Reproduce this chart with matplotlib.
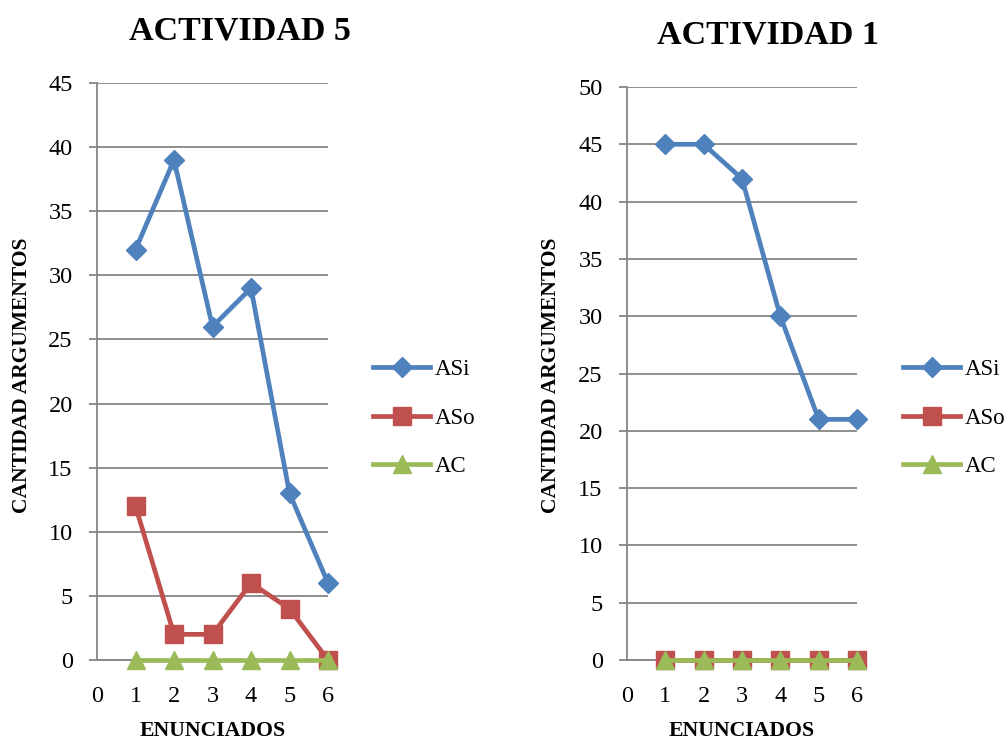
import matplotlib
matplotlib.use("Agg")
import matplotlib.pyplot as plt

plt.rcParams['font.family'] = ['Liberation Serif', 'DejaVu Serif']

enunciados = [1, 2, 3, 4, 5, 6]
x_ticks = [0, 1, 2, 3, 4, 5, 6]

act5_asi = [32, 39, 26, 29, 13, 6]
act5_aso = [12, 2, 2, 6, 4, 0]
act5_ac = [0, 0, 0, 0, 0, 0]

act1_asi = [45, 45, 42, 30, 21, 21]
act1_aso = [0, 0, 0, 0, 0, 0]
act1_ac = [0, 0, 0, 0, 0, 0]

series_names = ["ASi", "ASo", "AC"]
colors = ["#4F81BD", "#C0504D", "#9BBB59"]
markers = ["D", "s", "^"]
msizes = [10.5, 12.5, 12.5]

W, H = 1007, 741
fig = plt.figure(figsize=(W / 100, H / 100), dpi=100)

def px_axes(x0, x1, y0, y1):
    return [x0 / W, 1 - y0 / H, (x1 - x0) / W, (y0 - y1) / H]

panels = [
    dict(rect=px_axes(97, 328, 660, 83), data=[act5_asi, act5_aso, act5_ac],
         ymax=45, title="ACTIVIDAD 5", tx=240, ty=31, legx=373, ylx=22),
    dict(rect=px_axes(627, 857, 660, 87), data=[act1_asi, act1_aso, act1_ac],
         ymax=50, title="ACTIVIDAD 1", tx=768, ty=35, legx=903, ylx=551),
]

grid_c = "#868686"
for p in panels:
    ax = fig.add_axes(p["rect"])
    for vals, name, c, m, ms in zip(p["data"], series_names, colors, markers, msizes):
        ax.plot(enunciados, vals, color=c, lw=3.4, marker=m, ms=ms,
                label=name, clip_on=False, zorder=3)
    ax.set_xlim(0, 6)
    ax.set_ylim(0, p["ymax"])
    ax.set_yticks(range(0, p["ymax"] + 1, 5))
    ax.set_xticks(x_ticks)
    ax.yaxis.grid(True, color=grid_c, lw=1.3)
    ax.set_axisbelow(True)
    for s in ["top", "right"]:
        ax.spines[s].set_visible(False)
    for s in ["left", "bottom"]:
        ax.spines[s].set_color(grid_c)
        ax.spines[s].set_linewidth(1.3)
    ax.tick_params(axis="y", length=5.5, width=1.3, color=grid_c, labelsize=17.5, pad=12)
    ax.tick_params(axis="x", length=0, labelsize=17.5, pad=19)
    ax.set_xlabel("ENUNCIADOS", fontsize=15.7, fontweight="bold")
    ax.set_ylabel("CANTIDAD ARGUMENTOS", fontsize=15.5, fontweight="bold")
    axw = p["rect"][2] * W
    axh = p["rect"][3] * H
    ax.xaxis.set_label_coords(0.5, (660 - 731) / axh)
    ax.xaxis.label.set_va("center")
    ax.yaxis.set_label_coords((p["ylx"] - p["rect"][0] * W) / axw, (660 - 375) / axh)
    ax.yaxis.label.set_va("center")
    ax.yaxis.label.set_ha("center")
    fig.text(p["tx"] / W, 1 - p["ty"] / H, p["title"], ha="center", va="center",
             fontsize=24.5, fontweight="bold")
    fig.legend(handles=ax.get_lines(), labels=series_names, loc="center left",
               bbox_to_anchor=(p["legx"] / W, 1 - 418 / H), frameon=False,
               fontsize=16.5, handlelength=2.5, labelspacing=1.18, handletextpad=0.2,
               borderaxespad=0, borderpad=0)

fig.savefig("out.png", dpi=100)
